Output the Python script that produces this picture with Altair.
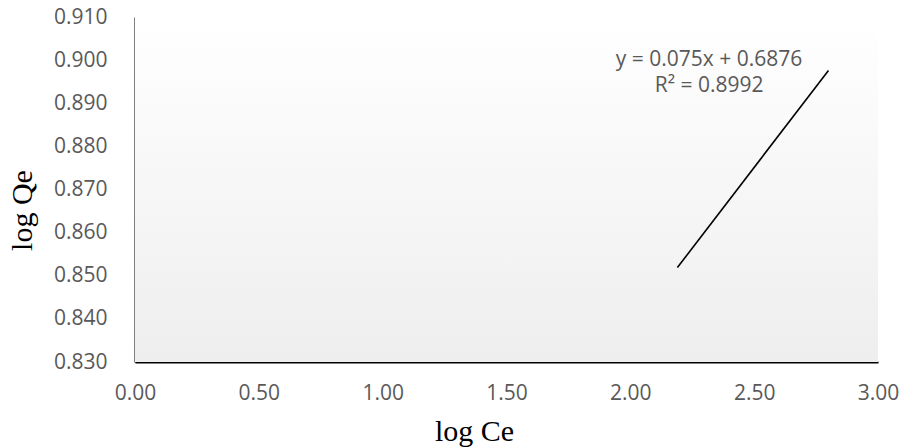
import altair as alt
import pandas as pd

# Trendline endpoints
log_ce = [2.19, 2.80]
log_qe = [0.8519, 0.8976]

# Annotation text and its position (data coordinates)
ann_text = ["y = 0.075x + 0.6876", "R² = 0.8992"]
ann_x = [2.318, 2.318]
ann_y = [0.9000, 0.8940]

x_ticks = [0.0, 0.5, 1.0, 1.5, 2.0, 2.5, 3.0]
y_ticks = [0.83, 0.84, 0.85, 0.86, 0.87, 0.88, 0.89, 0.90, 0.91]

W, H = 743, 345

line_df = pd.DataFrame({"x": log_ce, "y": log_qe})
ann_df = pd.DataFrame({"t": ann_text, "x": ann_x, "y": ann_y})

x_scale = alt.Scale(domain=[0, 3], nice=False, zero=False)
y_scale = alt.Scale(domain=[0.83, 0.91], nice=False, zero=False)

bg = alt.Chart(pd.DataFrame({"a": [0]})).mark_rect(
    fill=alt.Gradient(
        gradient="linear",
        stops=[alt.GradientStop(color="#ffffff", offset=0),
               alt.GradientStop(color="#eeeeee", offset=1)],
        x1=0, x2=0, y1=0, y2=1,
    )
).encode(x=alt.value(0), x2=alt.value(W), y=alt.value(0), y2=alt.value(H))

line = alt.Chart(line_df).mark_line(color="black", strokeWidth=1.6).encode(
    x=alt.X("x:Q", scale=x_scale,
            axis=alt.Axis(values=x_ticks, format=".2f", title="log Ce",
                          titleX=339, titleY=78, titleBaseline="alphabetic",
                          titleAlign="center", labelPadding=20,
                          labelFlush=False)),
    y=alt.Y("y:Q", scale=y_scale,
            axis=alt.Axis(values=y_ticks, format=".3f", title="log Qe",
                          titleX=-113, titleY=193, titleAngle=270,
                          titleAlign="center", titleBaseline="middle",
                          labelPadding=28, labelFlush=False)),
)

ann = alt.Chart(ann_df).mark_text(
    font="Open Sans", fontSize=21, color="#595959", align="center", baseline="middle"
).encode(
    x=alt.X("x:Q", scale=x_scale),
    y=alt.Y("y:Q", scale=y_scale),
    text="t:N",
)

chart = alt.layer(bg, line, ann).properties(
    width=W, height=H,
    autosize=alt.AutoSizeParams(type="none"),
    padding={"left": 135, "top": 17, "right": 21, "bottom": 85},
    background="white",
).configure_view(stroke=None).configure_axis(
    grid=False, ticks=False, tickSize=0,
    domainColor="black", domainWidth=2,
    labelFont="Open Sans", labelFontSize=21, labelColor="#595959",
    titleFont="Liberation Serif", titleFontSize=30, titleFontWeight="normal",
    titleColor="black", zindex=1,
)

chart.save("out.html", embed_options={"renderer": "svg", "actions": False})
